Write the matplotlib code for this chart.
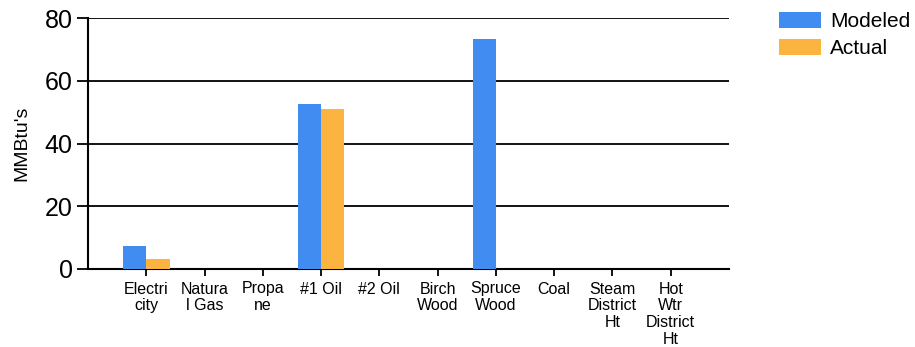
import matplotlib.pyplot as plt
import numpy as np

plt.rcParams['font.family'] = ['Liberation Sans', 'DejaVu Sans']

categories = ['Electri\ncity', 'Natura\nl Gas', 'Propa\nne', '#1 Oil', '#2 Oil',
              'Birch\nWood', 'Spruce\nWood', 'Coal', 'Steam\nDistrict\nHt',
              'Hot\nWtr\nDistrict\nHt']
modeled = [7.3, 0, 0, 52.6, 0, 0, 73.3, 0, 0, 0]
actual = [3.2, 0, 0, 51.0, 0, 0, 0, 0, 0, 0]

fig = plt.figure(figsize=(9.15, 3.47), dpi=100)
ax = fig.add_axes([88 / 915, 1 - 269 / 347, (729 - 88) / 915, (269 - 18) / 347])

x = np.arange(len(categories))
w = 0.4
ax.bar(x - w / 2, modeled, w, color='#418cf0', label='Modeled', zorder=3)
ax.bar(x + w / 2, actual, w, color='#fcb441', label='Actual', zorder=3)

ax.set_xlim(-1, 10)
ax.set_ylim(0, 80)
ax.set_yticks([0, 20, 40, 60, 80])
ax.yaxis.grid(True, color='black', linewidth=1.3, zorder=0)
ax.set_xticks(x)
ax.set_xticklabels(categories, fontsize=11.5, linespacing=1.15)
ax.tick_params(axis='y', labelsize=18, length=8, width=1.3, pad=3)
ax.tick_params(axis='x', length=5, width=1.3, pad=4)
for s in ['top', 'right']:
    ax.spines[s].set_visible(False)
for s in ['left', 'bottom']:
    ax.spines[s].set_linewidth(1.5)
ax.set_ylabel("MMBtu's", fontsize=14, labelpad=10)

ax.legend(loc='upper left', bbox_to_anchor=(779 / 915, 1 - 12 / 347), bbox_transform=fig.transFigure,
          frameon=False, fontsize=15, handlelength=2.02, handleheight=0.82,
          labelspacing=0.36, handletextpad=0.43, borderpad=0, borderaxespad=0)

fig.savefig('out.png', dpi=100)
